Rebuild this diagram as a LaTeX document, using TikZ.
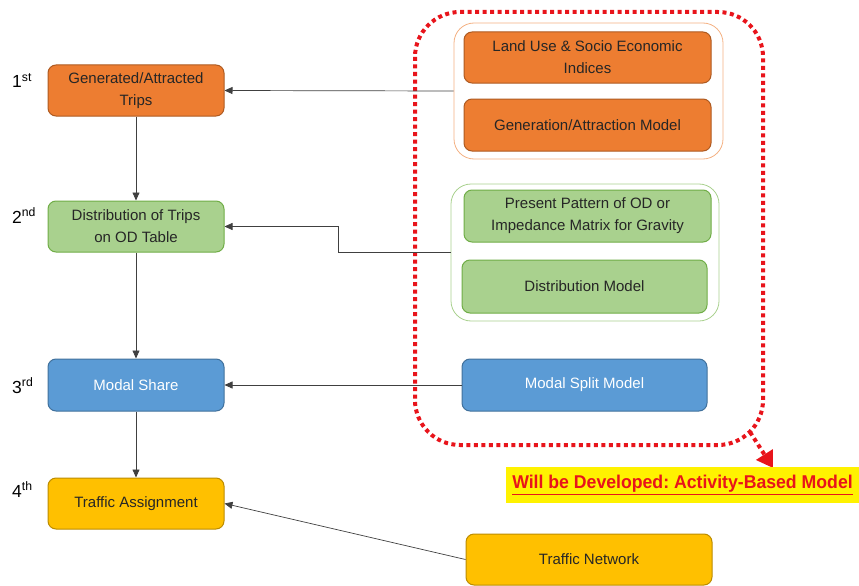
\documentclass[tikz,border=0pt]{standalone}
\usepackage{fontspec}
\setmainfont{Liberation Sans}
\usetikzlibrary{arrows.meta}
\frenchspacing
\definecolor{orf}{HTML}{ED7D31}
\definecolor{ord}{HTML}{AE5A21}
\definecolor{orl}{HTML}{F4B183}
\definecolor{grf}{HTML}{A9D18E}
\definecolor{grd}{HTML}{70AD47}
\definecolor{blf}{HTML}{5B9BD5}
\definecolor{bld}{HTML}{41719C}
\definecolor{yef}{HTML}{FFC000}
\definecolor{yed}{HTML}{BC8C00}
\definecolor{redd}{HTML}{E8141B}
\tikzset{
  box/.style={draw, line width=1pt, rounded corners=8pt, align=center, inner sep=2pt,
    font=\fontsize{15}{22}\selectfont, text=black!85},
  orbox/.style={box, fill=orf, draw=ord},
  grbox/.style={box, fill=grf, draw=grd},
  blbox/.style={box, fill=blf, draw=bld, text=white},
  yebox/.style={box, fill=yef, draw=yed},
  cont/.style={draw, line width=0.8pt, rounded corners=20pt, fill=white},
  conn/.style={draw=black!75, line width=0.7pt},
  arr/.style={conn, -{Triangle[length=8pt,width=7pt]}},
  ordlabel/.style={anchor=base west, font=\fontsize{17.5}{20}\selectfont, inner sep=0pt}
}
\begin{document}
\begin{tikzpicture}[x=1pt,y=-1pt]
\useasboundingbox (0,0) rectangle (859,586);
% red dotted frame
\draw[redd, line width=4pt, dash pattern=on 4pt off 3.5pt, rounded corners=45pt]
  (415,12) rectangle (763,445);
% containers
\node[cont, draw=orl, minimum width=269pt, minimum height=136pt] (orc) at (588.5,91) {};
\node[cont, draw=grf, minimum width=268pt, minimum height=137pt] (grc) at (585,252.5) {};
% right boxes
\node[orbox, minimum width=247pt, minimum height=51pt] (lu) at (587.5,57.5) {Land Use \& Socio Economic\\Indices};
\node[orbox, minimum width=247pt, minimum height=52pt] (gam) at (587.5,125) {Generation/Attraction Model};
\node[grbox, minimum width=247pt, minimum height=52pt] (pp) at (587.5,216) {Present Pattern of OD or\\Impedance Matrix for Gravity};
\node[grbox, minimum width=245pt, minimum height=53pt] (dm) at (584.5,286.5) {Distribution Model};
\node[blbox, minimum width=245pt, minimum height=52pt] (msm) at (584.5,385) {Modal Split Model};
\node[yebox, minimum width=246pt, minimum height=51pt] (tn) at (589,559.5) {Traffic Network};
% left boxes
\node[orbox, minimum width=176pt, minimum height=51pt] (gat) at (136,90.5) {Generated/Attracted\\Trips};
\node[grbox, minimum width=176pt, minimum height=51pt] (dot) at (136,226.5) {Distribution of Trips\\on OD Table};
\node[blbox, minimum width=176pt, minimum height=52pt] (ms) at (136,385) {Modal Share};
\node[yebox, minimum width=176pt, minimum height=51pt] (ta) at (136,503.5) {Traffic Assignment};
% ordinal labels
\node[ordlabel] (l1) at (12,88) {1\textsuperscript{st}};
\node[ordlabel] (l2) at (12,223) {2\textsuperscript{nd}};
\node[ordlabel] (l3) at (12,393) {3\textsuperscript{rd}};
\node[ordlabel] (l4) at (12,497) {4\textsuperscript{th}};
% vertical arrows
\draw[arr] (gat.south) -- (dot.north);
\draw[arr] (dot.south) -- (ms.north);
\draw[arr] (ms.south) -- (ta.north);
% horizontal connectors
\draw[arr] (orc.west) -- (gat.east);
\coordinate (bend1) at (338,252.5);
\coordinate (bend2) at (338,226.5);
\draw[arr] (grc.west) -- (bend1) -- (bend2) -- (dot.east);
\draw[arr] (msm.west) -- (ms.east);
\draw[arr] (tn.west) -- (ta.east);
% red arrow to label
\coordinate (rs) at (750,432);
\coordinate (rt) at (773,468);
\draw[redd, line width=4pt, dash pattern=on 4pt off 3.5pt, -{Triangle[length=16pt,width=19pt]}] (rs) -- (rt);
% label
\node[fill=yellow, minimum width=353pt, minimum height=36pt, inner sep=0pt,
  font=\bfseries\fontsize{18.5}{20}\selectfont, text=redd] (wbd) at (682.5,485)
  {\scalebox{0.955}[1]{\underline{Will be Developed: Activity-Based Model}}};
\end{tikzpicture}
\end{document}
